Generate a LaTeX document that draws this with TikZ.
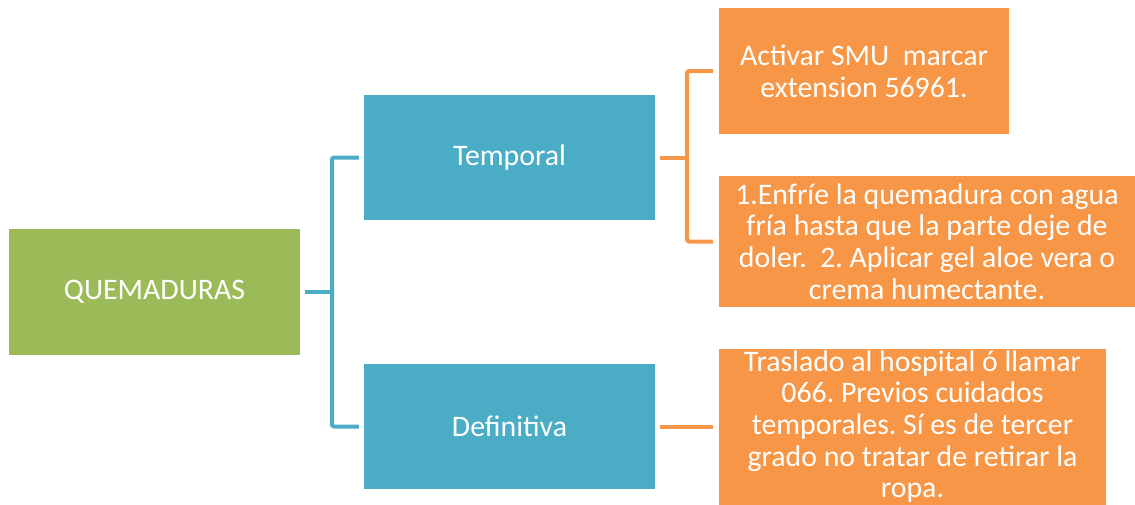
\documentclass[tikz,border=0pt]{standalone}
\usepackage{fontspec}
\setmainfont{Carlito}
\definecolor{qgreen}{HTML}{9BBB59}
\definecolor{qblue}{HTML}{4BACC6}
\definecolor{qorange}{HTML}{F79646}
\frenchspacing
\begin{document}
\begin{tikzpicture}[x=1pt, y=-1pt, line cap=butt, line join=round,
    box/.style={rectangle, inner sep=0pt, align=center, text=white, font=\fontsize{29.8}{31.7}\selectfont},
    greenbox/.style={box, fill=qgreen},
    bluebox/.style={box, fill=qblue},
    orangebox/.style={box, fill=qorange},
    bluelink/.style={draw=qblue, line width=4pt, rounded corners=2pt},
    orangelink/.style={draw=qorange, line width=4pt, rounded corners=2pt}]
    \useasboundingbox (0,0) rectangle (1135,504);
    \node[greenbox, minimum width=291pt, minimum height=126pt] (quem) at (154.5,292) {QUEMADURAS};
    \node[bluebox, minimum width=291pt, minimum height=125pt] (temp) at (509.5,157.5) {Temporal};
    \node[bluebox, minimum width=291pt, minimum height=125pt] (defi) at (509.5,426.5) {Definitiva};
    \node[orangebox, minimum width=290pt, minimum height=126pt] (act) at (864,71) {Activar SMU~ marcar\\extension 56961.};
    \node[orangebox, minimum width=416pt, minimum height=131pt] (enf) at (927,241.5) {1.Enfríe la quemadura con agua\\fría hasta que la parte deje de\\doler.~ 2. Aplicar gel aloe vera o\\crema humectante.};
    \node[orangebox, minimum width=387pt, minimum height=156pt] (tras) at (912.5,426.5) {Traslado al hospital ó llamar\\066. Previos cuidados\\temporales. Sí es de tercer\\grado no tratar de retirar la\\ropa.};
    \coordinate (spineA) at (332,292);
    \coordinate (spineB) at (687,157.5);
    \draw[bluelink] ([xshift=5pt]quem.east) -- (spineA);
    \draw[bluelink] ([xshift=-5pt]temp.west) -| (spineA) |- ([xshift=-5pt]defi.west);
    \draw[orangelink] ([xshift=5pt]temp.east) -- (spineB);
    \draw[orangelink] ([xshift=-6pt]act.west) -| (spineB) |- ([xshift=-6pt]enf.west);
    \draw[orangelink] ([xshift=5pt]defi.east) -- ([xshift=-6pt]tras.west);
  \end{tikzpicture}
\end{document}
